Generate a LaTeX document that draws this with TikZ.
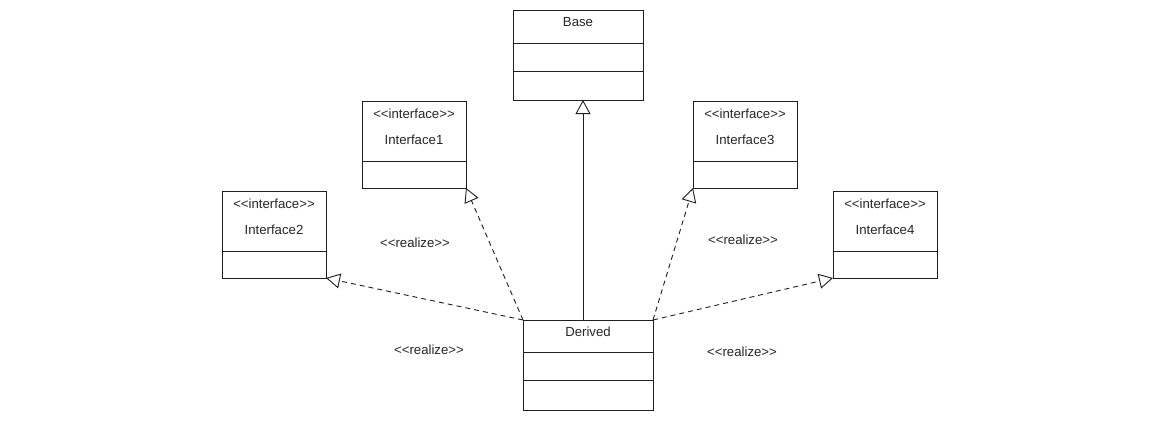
\documentclass[tikz,border=0pt]{standalone}
\usepackage{fontspec}
\setmainfont[Ligatures=NoCommon]{Liberation Sans}
\usetikzlibrary{arrows.meta}

\begin{document}
\begin{tikzpicture}[x=1pt,y=-1pt]
  \definecolor{kLine}{rgb}{0.12,0.12,0.12}
  \definecolor{kText}{rgb}{0.15,0.15,0.15}
  \tikzset{
    klass/.style={draw=kLine,line width=1pt,anchor=north west,inner sep=0pt,outer sep=0pt},
    ktext/.style={text=kText,font=\fontsize{13.2}{15}\selectfont,inner sep=0pt},
    realize/.style={draw=kLine,line width=0.9pt,dash pattern=on 5pt off 4pt,
      -{Triangle[open,length=14pt,width=15pt,fill=white]}},
    extends/.style={draw=kLine,line width=0.9pt,
      -{Triangle[open,length=14pt,width=15pt,fill=white]}}
  }
  \useasboundingbox (0,0) rectangle (1168,423);

  % classes
  \node[klass,minimum width=130,minimum height=90] (base) at (513,10) {};
  \draw[kLine,line width=1pt] (513,43) -- (643,43) (513,71) -- (643,71);
  \node[ktext] at (578,22) {Base};

  \node[klass,minimum width=130,minimum height=90] (derived) at (523,320) {};
  \draw[kLine,line width=1pt] (523,352) -- (653,352) (523,380) -- (653,380);
  \node[ktext] at (588,332) {Derived};

  \foreach \name/\x/\y/\n in { ifaceA/362/101/1, ifaceB/222/191/2, ifaceC/693/101/3, ifaceD/833/191/4 }
  {
    \node[klass,minimum width=104,minimum height=87] (\name) at (\x,\y) {};
    \draw[kLine,line width=1pt] (\x,\y+60) -- (\x+104,\y+60);
    \node[ktext] at (\x+52,\y+13) {\textless{}\textless{}interface\textgreater{}\textgreater};
    \node[ktext] at (\x+52,\y+39) {Interface\n};
  }

  % relations
  \coordinate (gen) at (583,320);
  \draw[extends] (gen) -- (gen |- base.south);

  \draw[realize] (derived.north west) -- (ifaceA.south east);
  \draw[realize] (derived.north west) -- (ifaceB.south east);
  \draw[realize] (derived.north east) -- (ifaceC.south west);
  \draw[realize] (derived.north east) -- (ifaceD.south west);

  \node[ktext] at (415,243) {\textless{}\textless{}realize\textgreater{}\textgreater};
  \node[ktext] at (429,350) {\textless{}\textless{}realize\textgreater{}\textgreater};
  \node[ktext] at (743,240) {\textless{}\textless{}realize\textgreater{}\textgreater};
  \node[ktext] at (742,352) {\textless{}\textless{}realize\textgreater{}\textgreater};
\end{tikzpicture}
\end{document}
